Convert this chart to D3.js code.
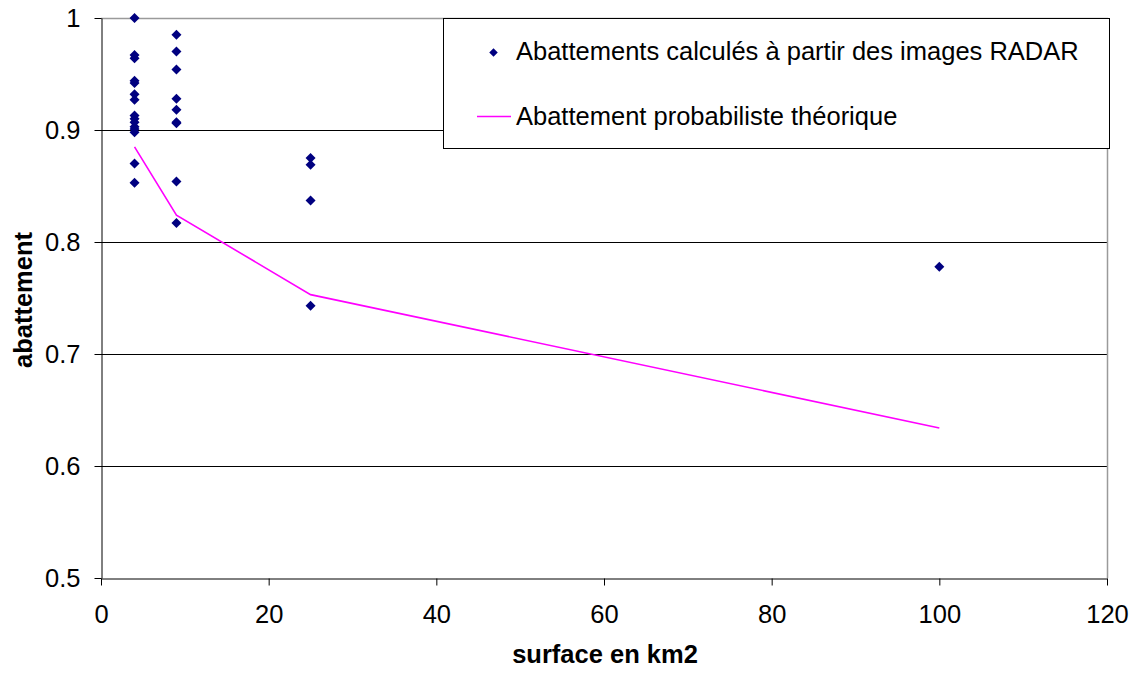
<!DOCTYPE html>
<html>
<head>
<meta charset="utf-8">
<script src="https://cdn.jsdelivr.net/npm/d3@7"></script>
<style>
  html, body { margin: 0; padding: 0; background: #fff; }
  svg { display: block; font-family: "Liberation Sans", Arial, sans-serif; }
</style>
</head>
<body>
<svg id="chart" width="1139" height="673"></svg>
<script>
// Surface (km2) of each RADAR-derived measurement
const radarSurface = [
  4, 4, 4, 4, 4, 4, 4, 4, 4, 4, 4, 4, 4, 4, 4,
  9, 9, 9, 9, 9, 9, 9, 9, 9,
  25, 25, 25, 25,
  100
];
// Areal reduction factor computed from the RADAR images
const radarAbattement = [
  1.000, 0.967, 0.964, 0.944, 0.942, 0.932, 0.927, 0.913, 0.910, 0.907, 0.903, 0.901, 0.898, 0.870, 0.853,
  0.985, 0.970, 0.954, 0.928, 0.918, 0.907, 0.906, 0.854, 0.817,
  0.875, 0.869, 0.837, 0.743,
  0.778
];
// Theoretical probabilistic reduction curve
const theoSurface = [4, 9, 25, 100];
const theoAbattement = [0.885, 0.824, 0.753, 0.634];

const xTicks = [0, 20, 40, 60, 80, 100, 120];
const yTicks = [0.5, 0.6, 0.7, 0.8, 0.9, 1];

const seriesNames = [
  "Abattements calculés à partir des images RADAR",
  "Abattement probabiliste théorique"
];
const xTitle = "surface en km2";
const yTitle = "abattement";

const FONT = "'Liberation Sans', Arial, sans-serif";
const FS = 25.5;

const svg = d3.select("#chart");
const plot = { left: 101, right: 1107, top: 18, bottom: 578 };

const x = d3.scaleLinear().domain([0, 120]).range([plot.left, plot.right]);
const y = d3.scaleLinear().domain([0.5, 1]).range([plot.bottom, plot.top]);

// Square diamond marker (equal width and height)
const squareDiamond = {
  draw(context, size) {
    const r = Math.sqrt(size / 2);
    context.moveTo(0, -r);
    context.lineTo(r, 0);
    context.lineTo(0, r);
    context.lineTo(-r, 0);
    context.closePath();
  }
};

// Horizontal gridlines
svg.append("g")
  .selectAll("line")
  .data(yTicks.filter(d => d > 0.5 && d < 1))
  .join("line")
  .attr("x1", plot.left).attr("x2", plot.right)
  .attr("y1", d => Math.round(y(d)) + 0.5).attr("y2", d => Math.round(y(d)) + 0.5)
  .attr("stroke", "#000").attr("stroke-width", 1);

// Plot frame (top and right in grey)
svg.append("path")
  .attr("d", `M${plot.left},${plot.top + 0.5}H${plot.right + 0.5}V${plot.bottom}`)
  .attr("fill", "none").attr("stroke", "#9a9a9a").attr("stroke-width", 1.5);

// Axes
const xAxis = d3.axisBottom(x).tickValues(xTicks).tickSize(7).tickSizeOuter(0).tickFormat(d3.format("d"));
const yAxis = d3.axisLeft(y).tickValues(yTicks).tickSize(7).tickSizeOuter(0)
  .tickFormat(d => d === 1 ? "1" : d3.format(".1f")(d));

const gx = svg.append("g").attr("transform", `translate(0,${plot.bottom + 0.5})`).call(xAxis);
gx.select(".domain").attr("stroke", "#000");
gx.selectAll(".tick line").attr("stroke", "#000");
gx.selectAll(".tick text")
  .attr("font-size", FS).attr("font-family", FONT).attr("fill", "#000")
  .attr("y", 0).attr("dy", 0)
  .attr("transform", "translate(0,44)");

const gy = svg.append("g").attr("transform", `translate(${plot.left + 0.5},0)`).call(yAxis);
gy.select(".domain").attr("stroke", "#000");
gy.selectAll(".tick line").attr("stroke", "#000");
gy.selectAll(".tick text")
  .attr("font-size", FS).attr("font-family", FONT).attr("fill", "#000")
  .attr("x", -21).attr("dy", "0.35em");

// Axis titles
svg.append("text")
  .attr("x", 605).attr("y", 663)
  .attr("text-anchor", "middle").attr("font-size", FS).attr("font-weight", "bold")
  .text(xTitle);

svg.append("text")
  .attr("transform", `translate(32,300) rotate(-90)`)
  .attr("text-anchor", "middle").attr("font-size", FS).attr("font-weight", "bold")
  .text(yTitle);

// Theoretical curve
const line = d3.line().x(d => x(d[0])).y(d => y(d[1]));
svg.append("path")
  .datum(d3.zip(theoSurface, theoAbattement))
  .attr("d", line)
  .attr("fill", "none").attr("stroke", "#ff00ff").attr("stroke-width", 1.6);

// RADAR points (diamonds)
const diamond = d3.symbol().type(squareDiamond).size(50);
svg.append("g")
  .selectAll("path")
  .data(d3.zip(radarSurface, radarAbattement))
  .join("path")
  .attr("transform", d => `translate(${x(d[0])},${y(d[1])})`)
  .attr("d", diamond)
  .attr("fill", "#000080");

// Legend
const legend = svg.append("g");
legend.append("rect")
  .attr("x", 443.5).attr("y", 18.5).attr("width", 666).attr("height", 130)
  .attr("fill", "#fff").attr("stroke", "#000").attr("stroke-width", 1);
legend.append("path")
  .attr("transform", "translate(493.5,52.5)")
  .attr("d", d3.symbol().type(squareDiamond).size(36))
  .attr("fill", "#000080");
legend.append("line")
  .attr("x1", 477).attr("x2", 511).attr("y1", 116.5).attr("y2", 116.5)
  .attr("stroke", "#ff00ff").attr("stroke-width", 1.6);
legend.selectAll("text.lg")
  .data(seriesNames)
  .join("text")
  .attr("class", "lg")
  .attr("x", 516).attr("y", (d, i) => i === 0 ? 60 : 125)
  .attr("font-size", FS)
  .text(d => d);
</script>
</body>
</html>
